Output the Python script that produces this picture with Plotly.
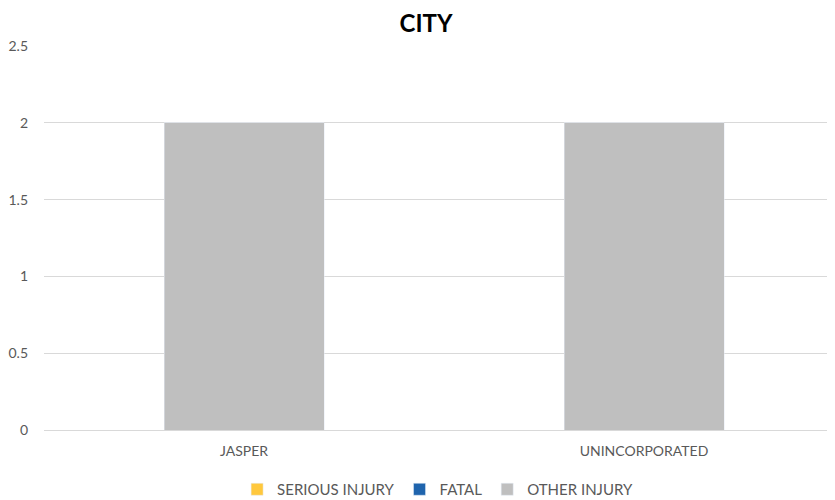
import plotly.graph_objects as go

categories = ["JASPER", "UNINCORPORATED"]
serious_injury = [0, 0]
fatal = [0, 0]
other_injury = [2, 2]
y_ticks = [0, 0.5, 1, 1.5, 2, 2.5]
y_tick_labels = ["0", "0.5", "1", "1.5", "2", "2.5"]

fig = go.Figure()
fig.add_trace(go.Bar(name="SERIOUS INJURY", x=categories, y=serious_injury, marker_color="#FFC83D"))
fig.add_trace(go.Bar(name="FATAL", x=categories, y=fatal, marker_color="#1F64AD"))
fig.add_trace(go.Bar(name="OTHER INJURY", x=categories, y=other_injury, marker_color="#BFBFBF"))

FONT = "Lato, Open Sans, Liberation Sans, sans-serif"

fig.update_layout(
    width=836, height=492,
    barmode="stack", bargap=0.6,
    paper_bgcolor="white", plot_bgcolor="white",
    margin=dict(l=36, r=0, t=38, b=70, autoexpand=False),
    font=dict(family=FONT, size=14, color="#595959"),
    title=dict(text="<b>CITY</b>", x=0.5, xanchor="center", y=0.985, yanchor="top",
               font=dict(size=24, color="#000000", family=FONT)),
    legend=dict(orientation="h", x=0.492, xanchor="center", y=-0.112, yanchor="top",
                font=dict(size=15, color="#595959", family=FONT), traceorder="normal",
                itemwidth=30, tracegroupgap=0),
    showlegend=True,
)
fig.update_yaxes(range=[0, 2.5001], tickvals=y_ticks, ticktext=y_tick_labels,
                 showgrid=True, gridcolor="#D9D9D9", gridwidth=1, zeroline=False,
                 showline=False, ticks="", ticklabelstandoff=15, automargin=False,
                 tickfont=dict(size=14, color="#595959", family=FONT))
fig.update_xaxes(showline=True, linecolor="#D9D9D9", linewidth=1, ticks="", automargin=False,
                 tickfont=dict(size=14, color="#595959", family=FONT), ticklabelstandoff=8)

fig.write_html("out.html")
